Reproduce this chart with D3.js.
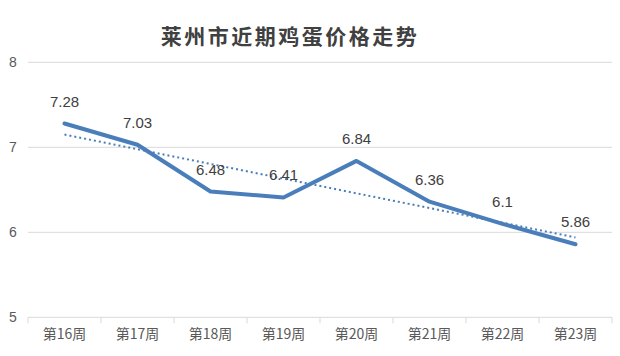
<!DOCTYPE html>
<html><head><meta charset="utf-8">
<script src="https://cdn.jsdelivr.net/npm/d3@7"></script>
<style>body{margin:0;background:#fff}svg{display:block}</style>
</head><body>
<script>
const title = "莱州市近期鸡蛋价格走势";
const categories = ["第16周","第17周","第18周","第19周","第20周","第21周","第22周","第23周"];
const values = [7.28, 7.03, 6.48, 6.41, 6.84, 6.36, 6.1, 5.86];
const yTicks = [5, 6, 7, 8];

const W = 620, H = 356;
const svg = d3.select("body").append("svg").attr("width", W).attr("height", H);

const x = d3.scaleBand().domain(categories).range([28, 612]);
const y = d3.scaleLinear().domain([5, 8]).range([317.3, 62.3]);

// title
svg.append("text").attr("x", 290).attr("y", 44).attr("text-anchor", "middle")
  .attr("font-family", "'Noto Sans CJK SC'").attr("font-weight", 700)
  .attr("font-size", 21).attr("letter-spacing", 2.5).attr("fill", "#404040").text(title);

// gridlines
svg.append("g").selectAll("line").data(yTicks.filter(d => d > 5)).join("line")
  .attr("x1", 28).attr("x2", 612).attr("y1", d => y(d)).attr("y2", d => y(d))
  .attr("stroke", "#d9d9d9").attr("stroke-width", 1);

// y labels
svg.append("g").selectAll("text").data(yTicks).join("text")
  .attr("x", 13).attr("y", d => y(d) + 5).attr("text-anchor", "middle")
  .attr("font-family", "'Liberation Sans', sans-serif").attr("font-size", 14).attr("fill", "#595959")
  .text(d => d);

// x axis
const xAxis = svg.append("g").attr("transform", `translate(0,${y(5)})`)
  .call(d3.axisBottom(x).tickSize(0).tickPadding(12));
xAxis.select(".domain").attr("stroke", "#d9d9d9").attr("d", `M28,0H612`);
xAxis.selectAll("text").attr("font-family", "'Noto Sans CJK SC', sans-serif")
  .attr("font-size", 14).attr("fill", "#595959");
// tick marks at band boundaries
const bounds = categories.map(c => x(c)).concat([x.range()[1]]);
svg.append("g").selectAll("line").data(bounds).join("line")
  .attr("x1", d => d).attr("x2", d => d).attr("y1", y(5)).attr("y2", y(5) + 6)
  .attr("stroke", "#d9d9d9");

const cx = c => x(c) + x.bandwidth() / 2;

// linear trendline (least squares)
const n = values.length;
const mx = d3.mean(values, (d, i) => i), my = d3.mean(values);
const slope = d3.sum(values, (d, i) => (i - mx) * (d - my)) / d3.sum(values, (d, i) => (i - mx) * (i - mx));
const icpt = my - slope * mx;
svg.append("line")
  .attr("x1", cx(categories[0])).attr("y1", y(icpt))
  .attr("x2", cx(categories[n - 1])).attr("y2", y(icpt + slope * (n - 1)))
  .attr("stroke", "#4a7ebb").attr("stroke-width", 2).attr("stroke-dasharray", "2,3");

// main line
svg.append("path").datum(values)
  .attr("d", d3.line().x((d, i) => cx(categories[i])).y(d => y(d)))
  .attr("fill", "none").attr("stroke", "#4a7ebb").attr("stroke-width", 4)
  .attr("stroke-linejoin", "round").attr("stroke-linecap", "round");

// data labels
svg.append("g").selectAll("text").data(values).join("text")
  .attr("x", (d, i) => cx(categories[i])).attr("y", d => y(d) - 17)
  .attr("text-anchor", "middle").attr("font-family", "'Liberation Sans', sans-serif")
  .attr("font-size", 15).attr("fill", "#404040").text(d => d);
</script>
</body></html>
